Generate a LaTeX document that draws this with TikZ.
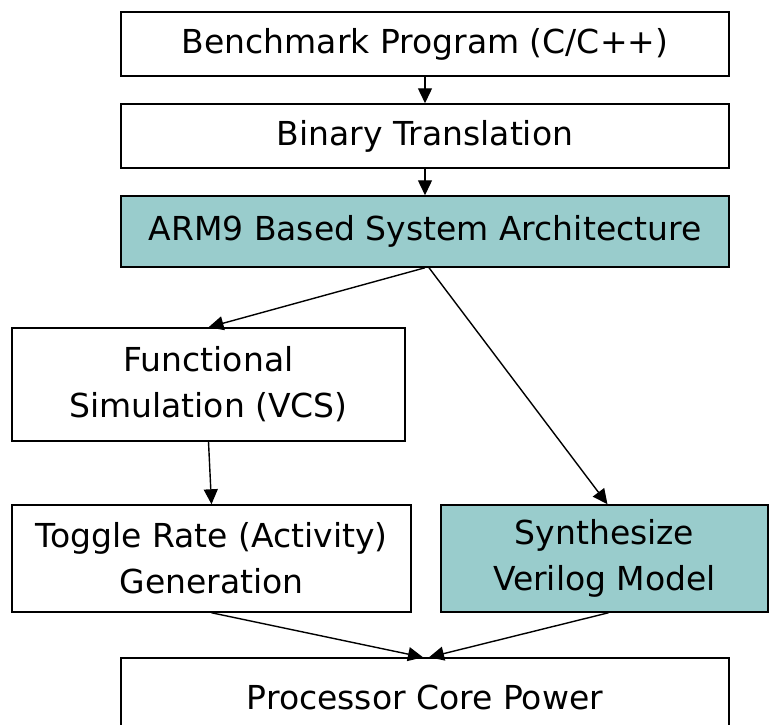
\documentclass[tikz,border=0pt]{standalone}
\usepackage{fontspec}
\setmainfont{DejaVu Sans}
\usetikzlibrary{arrows.meta}
\definecolor{flowteal}{HTML}{99CCCC}

\begin{document}
\begin{tikzpicture}[x=1pt, y=-1pt,
		flowbox/.style={draw=black, line width=1.5pt, fill=white, inner sep=0pt, align=center,
			font=\fontsize{33}{46}\selectfont},
		flowarrow/.style={line width=1.4pt, -{Triangle[length=15pt, width=14pt]}}]
		%%%%% START %%%%%
		
		\useasboundingbox (0, 0) rectangle (770, 724);
		
		\node[flowbox, minimum width=608, minimum height=64] (bench) at (425, 44) {Benchmark Program (C/C++)};
		\node[flowbox, minimum width=608, minimum height=64] (binary) at (425, 136) {Binary Translation};
		\node[flowbox, fill=flowteal, minimum width=608, minimum height=71] (arm) at (425, 231.5) {ARM9 Based System Architecture};
		
		\node[flowbox, minimum width=393, minimum height=113] (func) at (208.5, 384.5) {Functional\\Simulation (VCS)};
		\node[flowbox, minimum width=399, minimum height=107] (toggle) at (211.5, 558.5) {Toggle Rate (Activity)\\Generation};
		\node[flowbox, fill=flowteal, minimum width=327, minimum height=107] (synth) at (604.5, 558.5) {Synthesize\\Verilog Model};
		
		\node[flowbox, minimum width=608, minimum height=78] (power) at (425, 697) {Processor Core Power};
		
		\draw[flowarrow] (bench.south) -- (binary.north);
		\draw[flowarrow] (binary.south) -- (arm.north);
		\draw[flowarrow] (arm.south) -- (func.north);
		\draw[flowarrow] ([xshift=4]arm.south) -- ([xshift=3]synth.north);
		\draw[flowarrow] (func.south) -- (toggle.north);
		\draw[flowarrow] (toggle.south) -- ([xshift=-2]power.north);
		\draw[flowarrow] ([xshift=4]synth.south) -- ([xshift=4]power.north);
		
		%%%%% END %%%%%
	\end{tikzpicture}
\end{document}
